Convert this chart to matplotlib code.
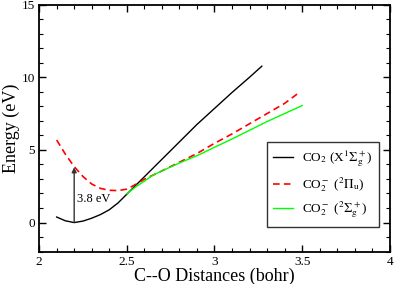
import matplotlib
matplotlib.use("Agg")
import matplotlib.pyplot as plt
from matplotlib.ticker import MultipleLocator

plt.rcParams['font.family'] = ['Liberation Serif', 'DejaVu Serif']
plt.rcParams['mathtext.fontset'] = 'stix'

# neutral CO2 ground state
x_neutral = [2.1, 2.15, 2.2, 2.25, 2.3, 2.35, 2.4, 2.45, 2.5, 2.6, 2.7, 2.8, 2.9, 3.0, 3.1, 3.2, 3.27]
y_neutral = [0.38, 0.12, 0.0, 0.1, 0.3, 0.55, 0.88, 1.35, 1.95, 3.15, 4.35, 5.55, 6.75, 7.85, 8.95, 10.0, 10.76]

# anion 2Pi_u
x_pi = [2.1, 2.15, 2.2, 2.25, 2.3, 2.35, 2.4, 2.45, 2.5, 2.55, 2.6, 2.7, 2.8, 2.9, 3.0, 3.1, 3.2, 3.3, 3.4, 3.48]
y_pi = [5.68, 4.7, 3.85, 3.17, 2.65, 2.35, 2.22, 2.2, 2.3, 2.62, 2.98, 3.55, 4.15, 4.75, 5.45, 6.1, 6.8, 7.5, 8.2, 8.92]

# anion 2Sigma_g+
x_sig = [2.5, 2.55, 2.6, 2.65, 2.7, 2.8, 2.9, 3.0, 3.1, 3.2, 3.3, 3.4, 3.5]
y_sig = [1.98, 2.45, 2.85, 3.27, 3.55, 4.1, 4.6, 5.18, 5.75, 6.35, 6.95, 7.5, 8.05]

labels = [r'CO$_2$ (X$^1\mathrm{\Sigma_g^+}$)', r'CO$_2^-$ ($^2\mathrm{\Pi_u}$)',
          r'CO$_2^-$ ($^2\mathrm{\Sigma_g^+}$)']

fig = plt.figure(figsize=(3.95, 2.84), dpi=100)
ax = fig.add_axes([0.099, 0.114, 0.888, 0.87])

ax.plot(x_neutral, y_neutral, color='black', lw=1.0, label=labels[0])
ax.plot(x_pi, y_pi, color='#ff0000', lw=1.2, ls=(0, (4, 2.5)), label=labels[1])
ax.plot(x_sig, y_sig, color='#00ff00', lw=1.0, label=labels[2])

# vertical excitation arrow
ax.annotate('', xy=(2.2, 3.8), xytext=(2.2, 0.0),
            arrowprops=dict(arrowstyle='-|>', color='#333333', lw=1.0,
                            mutation_scale=7, shrinkA=0, shrinkB=0))
ax.text(2.215, 1.6, '3.8 eV', fontsize=9, va='center', ha='left')

ax.set_xlim(2, 4)
ax.set_ylim(-2, 15)
ax.xaxis.set_minor_locator(MultipleLocator(0.1))
ax.yaxis.set_minor_locator(MultipleLocator(1))
ax.set_xticks([2, 2.5, 3, 3.5, 4])
ax.set_xticklabels(['2', '2.5', '3', '3.5', '4'])
ax.set_yticks([0, 5, 10, 15])
ax.tick_params(which='both', direction='in', top=True, right=True, labelsize=9.5)
ax.tick_params(which='major', length=5, width=1, pad=3)
ax.tick_params(which='minor', length=3, width=0.8)
for s in ax.spines.values():
    s.set_linewidth(1.3)

ax.set_xlabel('C--O Distances (bohr)', fontsize=13, labelpad=0)
ax.set_ylabel('Energy (eV)', fontsize=13, labelpad=1)

leg = ax.legend(loc='lower right', bbox_to_anchor=(0.97, 0.10), borderaxespad=0,
                fontsize=9.5, frameon=True, fancybox=False, edgecolor='black',
                handlelength=1.5, handletextpad=0.7, borderpad=0.5,
                labelspacing=0.45)
leg.get_frame().set_linewidth(1.0)

fig.savefig('out.png', dpi=100)
